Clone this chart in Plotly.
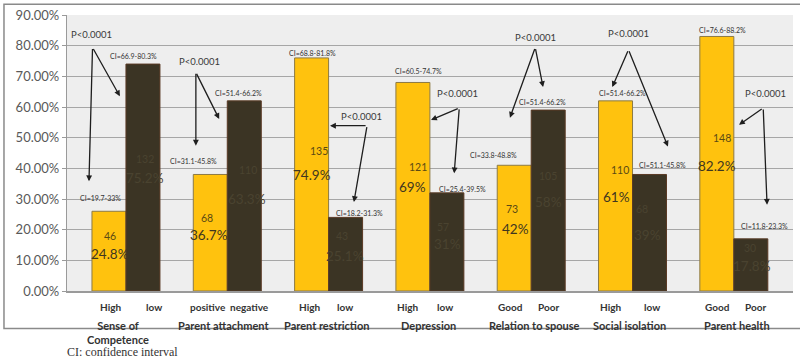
import plotly.graph_objects as go

# ---------------- data ----------------
groups = ["Sense of<br>Competence", "Parent attachment", "Parent restriction",
          "Depression", "Relation to spouse", "Social isolation", "Parent health"]
sub_first = ["High", "positive", "High", "High", "Good", "High", "Good"]
sub_second = ["low", "negative", "low", "low", "Poor", "low", "Poor"]

first_vals = [26, 38, 76, 68, 41, 62, 83]
second_vals = [74, 62, 24, 32, 59, 38, 17]

first_counts = ["46", "68", "135", "121", "73", "110", "148"]
second_counts = ["132", "110", "43", "57", "105", "68", "30"]
first_pct = ["24.8%", "36.7%", "74.9%", "69%", "42%", "61%", "82.2%"]
second_pct = ["75.2%", "63.3%", "25.1%", "31%", "58%", "39%", "17.8%"]

first_ci = ["CI=19.7-33%", "CI=31.1-45.8%", "CI=68.8-81.8%", "CI=60.5-74.7%",
            "CI=33.8-48.8%", "CI=51.4-66.2%", "CI=76.6-88.2%"]
second_ci = ["CI=66.9-80.3%", "CI=51.4-66.2%", "CI=18.2-31.3%", "CI=25.4-39.5%",
             "CI=51.4-66.2%", "CI=51.1-45.8%", "CI=11.8-23.3%"]
p_text = "P<0.0001"

tick_vals = [0, 10, 20, 30, 40, 50, 60, 70, 80, 90]
tick_text = ["0.00%", "10.00%", "20.00%", "30.00%", "40.00%", "50.00%",
             "60.00%", "70.00%", "80.00%", "90.00%"]

# ---------------- layout helpers (positions) ----------------
cnt1_pos = [(-0.16, 17.8), (-0.20, 23.9), (-0.09, 45.5), (-0.12, 40.3), (-0.19, 26.8), (-0.12, 39.4), (-0.12, 50.0)]
pct1_pos = [(-0.16, 12.2), (-0.18, 18.3), (-0.16, 37.7), (-0.17, 33.8), (-0.16, 20.2), (-0.16, 30.6), (-0.17, 40.9)]
cnt2_pos = [(0.19, 42.9), (0.20, 39.4), (0.13, 17.8), (0.13, 21.0), (0.17, 37.4), (0.09, 26.8), (0.16, 13.9)]
pct2_pos = [(0.19, 37.0), (0.19, 29.9), (0.16, 11.5), (0.17, 15.4), (0.17, 29.0), (0.15, 18.3), (0.18, 8.0)]

ci1_pos = [(-0.25, 30.3), (-0.33, 42.3), (-0.16, 77.7), (-0.11, 71.9), (-0.37, 44.2), (-0.10, 64.5), (-0.11, 85.2)]
ci2_pos = [(0.07, 76.5), (0.11, 64.5), (0.31, 25.5), (0.32, 33.2), (0.11, 61.6), (0.30, 41.0), (0.30, 21.3)]

p_pos = [(-0.34, 83.5), (-0.27, 74.8), (0.32, 56.8), (0.27, 64.5), (0.04, 82.6), (-0.04, 83.9), (0.31, 64.5)]
apex = [(-0.33, 79.4), (-0.31, 71.3), (0.38, 53.9), (0.29, 59.7), (0.04, 79.4), (-0.04, 78.7), (0.29, 59.7)]
head1 = [(-0.06, 63.5), (-0.08, 56.1), (0.014, 53.9), (0.011, 55.8), (-0.21, 56.5), (-0.20, 66.5), (0.051, 54.2)]
head2 = [(-0.365, 35.8), (-0.31, 47.4), (0.25, 29.0), (0.24, 38.4), (0.117, 66.5), (0.35, 47.1), (0.328, 28.1)]

sub1_x = [-0.148, -0.19, -0.184, -0.226, -0.209, -0.222, -0.166]
sub2_x = [0.276, 0.224, 0.162, 0.149, 0.166, 0.193, 0.209]
grp_x = [-0.079, -0.033, -0.016, -0.009, 0.028, -0.025, 0.032]

GOLD = "#FFC20E"
DARK = "#3B3424"
FONT = "Lato"
LBL = "#333333"

x_idx = list(range(len(groups)))

fig = go.Figure()
fig.add_trace(go.Bar(x=x_idx, y=first_vals, marker=dict(color=GOLD, line=dict(color="#8C7A45", width=1)),
                     showlegend=False, hoverinfo="skip"))
fig.add_trace(go.Bar(x=x_idx, y=second_vals, marker=dict(color=DARK, line=dict(color="#5a3a25", width=1)),
                     showlegend=False, hoverinfo="skip"))

ann = []
for i in x_idx:
    ann.append(dict(x=i + cnt1_pos[i][0], y=cnt1_pos[i][1], text=first_counts[i], showarrow=False,
                    font=dict(family=FONT, size=10.5, color="#5b4a14")))
    ann.append(dict(x=i + pct1_pos[i][0], y=pct1_pos[i][1], text=first_pct[i], showarrow=False,
                    font=dict(family=FONT, size=13.5, color="#3f3620")))
    ann.append(dict(x=i + cnt2_pos[i][0], y=cnt2_pos[i][1], text=second_counts[i], showarrow=False,
                    font=dict(family=FONT, size=10.5, color="#4a4330")))
    ann.append(dict(x=i + pct2_pos[i][0], y=pct2_pos[i][1], text=second_pct[i], showarrow=False,
                    font=dict(family=FONT, size=13.5, color="#4a4330")))
    ann.append(dict(x=i + ci1_pos[i][0], y=ci1_pos[i][1], text=first_ci[i], showarrow=False,
                    font=dict(family=FONT, size=7, color="#333333")))
    ann.append(dict(x=i + ci2_pos[i][0], y=ci2_pos[i][1], text=second_ci[i], showarrow=False,
                    font=dict(family=FONT, size=7, color="#333333")))
    ann.append(dict(x=i + p_pos[i][0], y=p_pos[i][1], text=p_text, showarrow=False,
                    font=dict(family=FONT, size=9.5, color="#3a3a3a")))
    for h in (head1[i], head2[i]):
        ann.append(dict(x=i + h[0], y=h[1], ax=i + apex[i][0], ay=apex[i][1], axref="x", ayref="y",
                        xref="x", yref="y", text="", showarrow=True, arrowhead=2, arrowsize=0.9,
                        arrowwidth=1.3, arrowcolor="#1e1e1e", standoff=0, startstandoff=0))
    ann.append(dict(x=i + sub1_x[i], y=-0.0573, xref="x", yref="paper", yanchor="middle",
                    text="<b>%s</b>" % sub_first[i], showarrow=False,
                    font=dict(family=FONT, size=10, color=LBL)))
    ann.append(dict(x=i + sub2_x[i], y=-0.0573, xref="x", yref="paper", yanchor="middle",
                    text="<b>%s</b>" % sub_second[i], showarrow=False,
                    font=dict(family=FONT, size=10, color=LBL)))
    ann.append(dict(x=i + grp_x[i], y=-0.096, xref="x", yref="paper", yanchor="top",
                    text="<b>%s</b>" % groups[i], showarrow=False,
                    font=dict(family=FONT, size=11, color=LBL)))

ann.append(dict(x=-0.003, y=-0.222, xref="paper", yref="paper", xanchor="left", yanchor="middle",
                text="CI: confidence interval", showarrow=False,
                font=dict(family="Liberation Serif", size=12, color="#333333")))

fig.update_layout(
    width=800, height=363,
    margin=dict(l=67, r=7, t=12, b=72),
    paper_bgcolor="white",
    plot_bgcolor="#eeeeee",
    barmode="group",
    bargap=0.329,
    bargroupgap=0,
    annotations=ann,
    xaxis=dict(range=[-0.582, 6.584], showticklabels=False, showgrid=False, zeroline=False,
               showline=True, linecolor="#9a9a9a", linewidth=1.5, ticks=""),
    yaxis=dict(range=[0, 90], tickvals=tick_vals, ticktext=tick_text, showgrid=True,
               gridcolor="#a6a6a6", gridwidth=1.3, zeroline=False, showline=True,
               linecolor="#9a9a9a", linewidth=1.3, ticks="outside", ticklen=4, tickcolor="#9a9a9a",
               tickfont=dict(family=FONT, size=13, color="#595959")),
    shapes=[dict(type="rect", xref="paper", yref="paper", x0=-0.0868, x1=1.03, y0=-0.136, y1=1.039,
                 line=dict(color="#8a8a8a", width=1.5), fillcolor="rgba(0,0,0,0)", layer="below")],
)

fig.write_html("out.html", config={"displayModeBar": False},
               post_script="document.body.style.margin='0';")
